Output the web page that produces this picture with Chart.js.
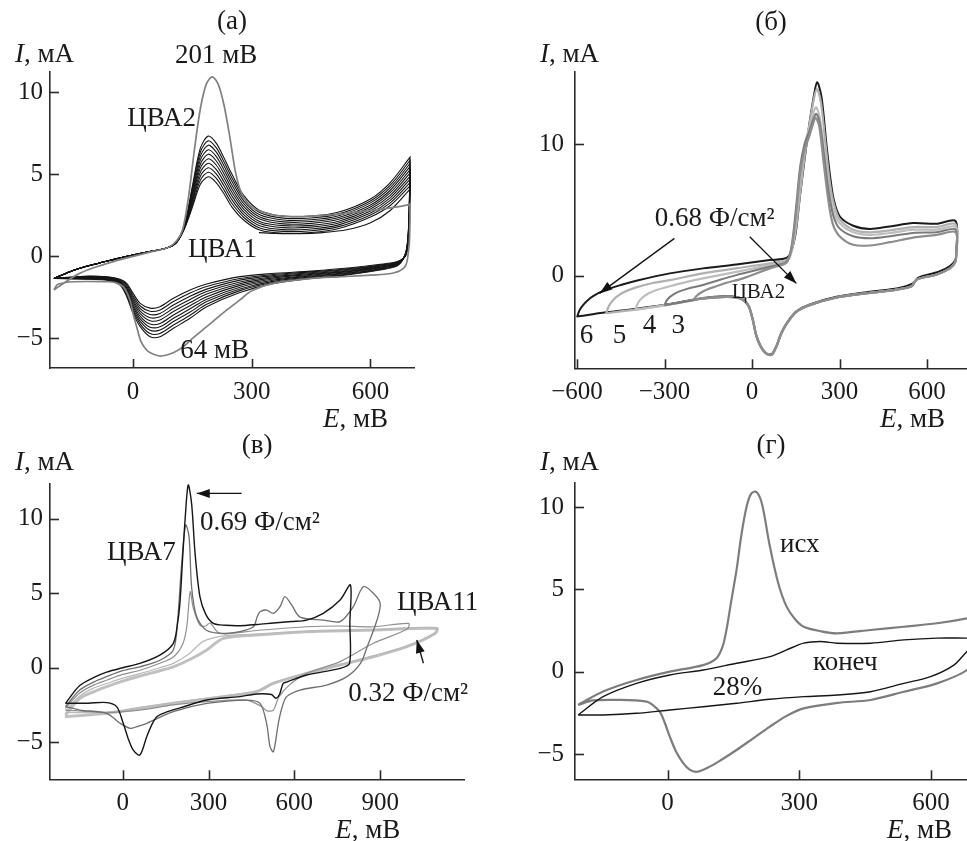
<!DOCTYPE html>
<html lang="ru">
<head>
<meta charset="UTF-8">
<title>ЦВА</title>
<script src="https://cdn.jsdelivr.net/npm/chart.js"></script>
<style>
  body { margin: 0; background: #fff; }
  #wrap { position: relative; width: 967px; height: 841px; overflow: hidden; }
  canvas { position: absolute; }
</style>
</head>
<body>
<div id="wrap">
  <canvas id="pa" width="480" height="440" style="left:0;top:0"></canvas>
  <canvas id="pb" width="487" height="440" style="left:480px;top:0"></canvas>
  <canvas id="pc" width="480" height="421" style="left:0;top:420px"></canvas>
  <canvas id="pd" width="487" height="421" style="left:480px;top:420px"></canvas>
</div>
<script>
// ---------- (а): E, мВ / I, мА ----------
var aXTicks = [0, 300, 600];
var aYTicks = [-5, 0, 5, 10];
var aBandFwdE = [-200,-150,-100,-50,0,50,90,110,130,150,170,190,210,230,250,280,320,380,450,520,600,650,700];
var aBandLeftI = [-1.35,-0.85,-0.5,-0.2,0.08,0.32,0.55];
var aBandPeakI = [
  [0.85,1.70,3.00,4.40,4.85,4.50,3.80,3.00,2.20,1.60,1.40,1.45,1.70,2.40,3.10,4.30],
  [0.85,1.72,3.14,4.64,5.13,4.77,4.04,3.22,2.37,1.73,1.52,1.56,1.81,2.52,3.26,4.49],
  [0.85,1.74,3.29,4.89,5.40,5.03,4.29,3.44,2.53,1.87,1.63,1.67,1.92,2.64,3.41,4.69],
  [0.86,1.77,3.43,5.13,5.68,5.30,4.53,3.67,2.70,2.00,1.75,1.78,2.03,2.77,3.57,4.88],
  [0.86,1.79,3.58,5.38,5.95,5.57,4.78,3.89,2.87,2.13,1.87,1.89,2.14,2.89,3.72,5.08],
  [0.86,1.81,3.72,5.62,6.23,5.83,5.02,4.11,3.03,2.27,1.98,2.01,2.26,3.01,3.88,5.27],
  [0.87,1.83,3.87,5.87,6.50,6.10,5.27,4.33,3.20,2.40,2.10,2.12,2.37,3.13,4.03,5.47],
  [0.87,1.86,4.01,6.11,6.78,6.37,5.51,4.56,3.37,2.53,2.22,2.23,2.48,3.26,4.19,5.66],
  [0.88,1.88,4.16,6.36,7.05,6.63,5.76,4.78,3.53,2.67,2.33,2.34,2.59,3.38,4.34,5.86],
  [0.88,1.90,4.30,6.60,7.33,6.90,6.00,5.00,3.70,2.80,2.45,2.45,2.70,3.50,4.50,6.05]
];
var aBandRevE = [700,697,690,670,620,550,450,350,270,186,144,102,68,43,18,0,-16,-33,-66,-109,-150,-200];
var aBandRevI = [
  [4.30,1.50,0.10,-0.30,-0.50,-0.70,-0.90,-1.05,-1.24,-1.69,-2.05,-2.56,-3.07,-3.16,-2.87,-2.26,-1.65,-1.40,-1.25,-1.20,-1.25,-1.35],
  [4.49,1.58,0.12,-0.33,-0.54,-0.74,-0.95,-1.12,-1.35,-1.84,-2.24,-2.76,-3.27,-3.35,-3.03,-2.40,-1.74,-1.44,-1.27,-1.22,-1.26,-1.35],
  [4.69,1.66,0.14,-0.36,-0.58,-0.79,-1.00,-1.19,-1.45,-2.00,-2.43,-2.97,-3.48,-3.55,-3.19,-2.53,-1.83,-1.48,-1.29,-1.24,-1.28,-1.35],
  [4.88,1.73,0.17,-0.38,-0.62,-0.83,-1.05,-1.26,-1.56,-2.15,-2.63,-3.17,-3.68,-3.74,-3.34,-2.67,-1.92,-1.52,-1.32,-1.27,-1.29,-1.35],
  [5.08,1.81,0.19,-0.41,-0.66,-0.88,-1.10,-1.33,-1.67,-2.30,-2.82,-3.37,-3.88,-3.93,-3.50,-2.80,-2.01,-1.56,-1.34,-1.29,-1.31,-1.35],
  [5.27,1.89,0.21,-0.44,-0.69,-0.92,-1.15,-1.40,-1.77,-2.46,-3.01,-3.58,-4.09,-4.13,-3.66,-2.94,-2.10,-1.59,-1.36,-1.31,-1.32,-1.35],
  [5.47,1.97,0.23,-0.47,-0.73,-0.97,-1.20,-1.47,-1.88,-2.61,-3.20,-3.78,-4.29,-4.32,-3.82,-3.07,-2.19,-1.63,-1.38,-1.33,-1.33,-1.35],
  [5.66,2.04,0.26,-0.49,-0.77,-1.01,-1.25,-1.54,-1.99,-2.76,-3.40,-3.98,-4.49,-4.51,-3.97,-3.21,-2.28,-1.67,-1.41,-1.36,-1.35,-1.35],
  [5.86,2.12,0.28,-0.52,-0.81,-1.06,-1.30,-1.61,-2.09,-2.92,-3.59,-4.19,-4.70,-4.71,-4.13,-3.34,-2.37,-1.71,-1.43,-1.38,-1.36,-1.35],
  [6.05,2.20,0.30,-0.55,-0.85,-1.10,-1.35,-1.68,-2.20,-3.07,-3.78,-4.39,-4.90,-4.90,-4.29,-3.48,-2.46,-1.75,-1.45,-1.40,-1.38,-1.35]
];
var aGray = [[-200,-2.05],[-170,-1.55],[-140,-1.1],[-100,-0.7],[-50,-0.32],[0,0.0],[50,0.3],[90,0.55],[110,0.95],[125,1.6],
  [140,3.6],[155,6.5],[170,9.0],[185,10.5],[200,10.95],[215,10.5],[230,9.2],[245,7.2],[260,5.0],[275,3.8],[300,3.0],
  [350,2.55],[400,2.42],[450,2.45],[520,2.58],[600,2.8],[650,2.95],[698,3.15],[700,3.2],[699,1.2],[696,0.3],[688,-0.6],
  [660,-1.0],[600,-1.15],[520,-1.25],[450,-1.35],[354,-1.65],[300,-2.1],[270,-2.66],[230,-3.4],[186,-4.29],[150,-5.0],
  [127,-5.51],[100,-5.9],[68,-6.08],[45,-5.9],[34,-5.71],[20,-5.2],[9,-4.29],[0,-3.5],[-8,-2.66],[-25,-1.85],[-45,-1.6],
  [-66,-1.55],[-150,-1.55],[-190,-1.7],[-200,-2.05]];
var aCva1 = [[318,1.45],[360,1.40],[420,1.38],[480,1.45],[540,1.62],[600,2.05],[650,2.8],[700,4.1]];

// ---------- (б) ----------
var bXTicks = [-600, -300, 0, 300, 600];
var bYTicks = [0, 10];
var b2Fwd = [[-200,-1.85],[-193,-1.6],[-180,-1.35],[-160,-1.1],[-130,-0.85],[-90,-0.55],[-31,-0.2],[61,0.56],[118,1.0],
  [135,2.0],[150,4.5],[165,7.8],[180,9.6],[195,10.5],[210,11.6],[218,12.0],[230,11.4],[246,8.5],[260,6.0],[276,4.0],
  [300,3.0],[347,2.35],[404,2.3],[473,2.55],[552,2.9],[633,3.1],[698,3.3]];
var b3Fwd = [[-300,-2.25],[-292,-1.85],[-278,-1.55],[-255,-1.25],[-220,-0.98],[-168,-0.7],[-110,-0.3],[-54,0.05],[61,0.68],
  [118,1.06],[135,2.2],[150,5.0],[165,8.3],[180,10.0],[195,10.9],[210,11.9],[220,12.3],[232,11.6],[248,9.0],[262,6.5],
  [278,4.6],[300,3.6],[347,3.0],[404,2.85],[473,3.0],[552,3.25],[633,3.3],[698,3.5]];
var b4Fwd = [[-400,-2.57],[-392,-2.1],[-380,-1.75],[-360,-1.4],[-330,-1.1],[-282,-0.8],[-220,-0.45],[-168,-0.2],[-54,0.3],
  [61,0.81],[118,1.1],[135,1.9],[150,4.2],[165,7.4],[180,9.8],[195,11.2],[212,12.5],[220,12.8],[232,12.0],[248,9.5],
  [262,7.0],[278,5.0],[300,4.0],[347,3.3],[404,3.1],[473,3.25],[552,3.5],[633,3.5],[698,3.7]];
var b5Fwd = [[-500,-2.85],[-492,-2.35],[-480,-1.95],[-465,-1.6],[-440,-1.25],[-397,-0.88],[-340,-0.55],[-282,-0.33],
  [-168,0.18],[-54,0.56],[61,0.94],[118,1.2],[135,1.8],[150,3.5],[165,6.3],[180,9.0],[195,11.2],[210,13.2],[222,14.2],
  [236,13.2],[252,10.0],[266,7.2],[280,5.5],[300,4.3],[347,3.5],[404,3.3],[473,3.45],[552,3.7],[633,3.7],[698,3.9]];
var b6Fwd = [[-600,-3.15],[-592,-2.65],[-580,-2.25],[-565,-1.9],[-545,-1.55],[-511,-1.15],[-450,-0.7],[-397,-0.38],
  [-282,0.18],[-168,0.56],[-54,0.85],[61,1.19],[118,1.35],[135,1.9],[150,3.3],[164,6.0],[180,8.8],[195,11.3],[210,13.4],
  [223,14.7],[238,13.6],[255,10.0],[268,7.5],[280,5.8],[301,4.5],[347,3.8],[404,3.55],[473,3.75],[552,4.0],[633,3.95],[698,4.15]];
var bRev = [[700,1.5],[696,1.0],[678,0.56],[633,0.1],[564,-0.3],[547,-0.8],[496,-1.05],[404,-1.3],[290,-1.65],[198,-2.23],
  [152,-2.74],[120,-3.6],[100,-4.4],[85,-5.3],[70,-5.95],[60,-6.02],[45,-5.85],[30,-5.4],[15,-4.6],[3,-3.4],[-10,-2.4],
  [-25,-1.95],[-45,-1.7],[-88,-1.6],[-168,-1.72]];
var bTail = [[-200,-1.85],[-300,-2.25],[-400,-2.57],[-500,-2.85],[-600,-3.15]];
var b6Rev = [[700,1.8],[697,1.2],[680,0.75],[640,0.3],[570,-0.15],[550,-0.6],[500,-0.95],[404,-1.22],[290,-1.6],[198,-2.18],
  [152,-2.7],[120,-3.55],[100,-4.35],[85,-5.25],[70,-5.9],[60,-5.98],[45,-5.8],[30,-5.35],[15,-4.55],[3,-3.35],[-10,-2.35],
  [-25,-1.9],[-45,-1.65],[-88,-1.55],[-168,-1.68],[-282,-2.15],[-397,-2.5],[-500,-2.78],[-600,-3.1]];

// ---------- (в) ----------
var vXTicks = [0, 300, 600, 900];
var vYTicks = [-5, 0, 5, 10];
var vBlack = [[-200,-2.39],[-150,-1.2],[-100,-0.65],[-56,-0.3],[0,0.0],[60,0.29],[130,0.85],[177,1.64],[192,3.0],[200,4.32],
  [210,7.5],[218,9.9],[229,12.26],[241,11.0],[253,7.68],[270,4.77],[290,3.6],[317,2.98],[360,2.85],[410,2.82],[470,2.9],
  [527,3.0],[590,3.1],[643,3.2],[701,3.65],[760,4.54],[796,5.55],[794,3.0],[793,0.29],[760,-0.04],[643,-0.49],[575,-0.95],
  [561,-1.05],[548,-1.8],[535,-2.05],[520,-1.8],[468,-1.76],[410,-1.94],[294,-2.17],[200,-2.7],[150,-3.0],[119,-3.29],
  [100,-3.9],[84,-4.63],[60,-5.86],[37,-5.53],[20,-4.8],[2,-3.73],[-21,-2.61],[-56,-2.34],[-120,-2.38],[-200,-2.39]];
var vCva900 = [[-200,-2.61],[-150,-1.5],[-100,-0.95],[-56,-0.6],[0,-0.2],[60,0.06],[130,0.5],[177,1.19],[192,3.2],[205,6.68],
  [220,9.58],[232,8.8],[241,5.4],[259,3.4],[294,2.5],[352,2.3],[410,2.42],[457,2.75],[470,3.4],[480,3.76],[503,3.87],
  [527,3.65],[550,4.1],[567,4.77],[591,4.2],[620,3.4],[701,3.2],[760,3.1],[806,4.1],[841,5.44],[876,5.0],[900,4.32],
  [889,3.2],[855,1.42],[831,0.29],[784,-0.6],[713,-1.16],[620,-1.5],[573,-1.94],[555,-2.8],[544,-3.73],[527,-5.64],
  [515,-5.3],[503,-3.73],[480,-2.39],[433,-2.17],[294,-2.4],[177,-2.95],[84,-3.73],[50,-3.95],[26,-4.07],[-9,-3.73],
  [-56,-3.06],[-149,-2.84],[-200,-2.61]];
var vCva1000 = [[-200,-2.72],[-150,-1.7],[-100,-1.15],[-56,-0.84],[0,-0.45],[60,-0.17],[130,0.3],[177,0.72],[210,1.6],
  [224,2.75],[236,5.1],[247,3.99],[270,2.86],[290,2.8],[305,3.0],[340,2.3],[468,2.5],[643,2.75],[760,2.8],[876,2.75],
  [999,2.98],[995,2.6],[876,1.64],[760,0.41],[643,-0.38],[580,-1.2],[545,-2.0],[527,-2.84],[505,-2.9],[485,-2.6],
  [433,-2.17],[294,-2.28],[177,-2.5],[60,-2.84],[-56,-3.0],[-200,-2.84]];
var vCvaThin = [[-200,-2.9],[-150,-1.9],[-100,-1.35],[-56,-1.06],[0,-0.7],[60,-0.4],[130,0.0],[177,0.29],[230,0.9],[259,1.41],
  [280,1.75],[317,2.0],[360,2.15],[468,2.25],[643,2.45],[876,2.55],[1098,2.7],[1092,2.35],[993,1.45],[876,0.8],[760,0.22],
  [643,-0.35],[527,-1.0],[468,-1.55],[352,-1.9],[177,-2.35],[60,-2.68],[-56,-3.0],[-200,-3.0]];
var vCva11 = [[-200,-3.17],[-150,-2.05],[-100,-1.6],[-56,-1.27],[0,-0.9],[60,-0.56],[130,-0.2],[177,0.06],[240,0.6],[294,1.19],
  [352,1.97],[468,2.2],[643,2.42],[876,2.53],[1098,2.64],[1092,2.3],[993,1.41],[876,0.74],[760,0.18],[643,-0.38],
  [527,-1.05],[468,-1.61],[352,-1.94],[177,-2.39],[60,-2.72],[-56,-3.06],[-202,-3.28]];

// ---------- (г) ----------
var gXTicks = [0, 300, 600];
var gYTicks = [-5, 0, 5, 10];
var gInit = [[-204,-2.02],[-147,-1.21],[-71,-0.51],[5,0.0],[81,0.4],[111,0.81],[125,1.5],[134,2.53],[145,4.3],[157,6.18],
  [168,8.3],[180,10.03],[190,10.8],[200,10.94],[210,10.6],[218,9.83],[233,7.6],[252,5.37],[271,3.95],[290,3.2],[310,2.73],
  [350,2.45],[386,2.33],[462,2.53],[538,2.73],[614,2.94],[682,3.24],[700,3.4],[700,1.0],[682,0.1],[614,-0.71],[538,-1.22],
  [462,-1.72],[386,-1.9],[310,-2.23],[270,-2.7],[233,-3.34],[195,-4.05],[157,-4.76],[120,-5.4],[96,-5.77],[67,-6.08],
  [50,-5.95],[36,-5.57],[20,-4.9],[5,-3.95],[-8,-3.0],[-18,-2.43],[-35,-2.0],[-48,-1.82],[-109,-1.72],[-170,-1.75],[-204,-2.02]];
var gFinal = [[-204,-2.63],[-147,-1.52],[-71,-0.71],[5,-0.2],[81,0.1],[157,0.51],[233,0.91],[271,1.32],[310,1.73],[348,1.83],
  [386,1.73],[462,1.73],[538,1.93],[614,2.04],[682,2.04],[700,2.05],[700,1.6],[682,1.23],[652,0.4],[599,-0.3],[538,-0.71],
  [462,-1.22],[386,-1.42],[310,-1.52],[233,-1.68],[157,-1.92],[81,-2.13],[5,-2.33],[-71,-2.53],[-147,-2.63],[-204,-2.63]];

// подписи, в координатах данных
var decorCfg = {
  pa: { title: '(а)', titleDy: -43, iDy: -10, eDx: -26,
    texts: [
      { t: '201 мВ', x: 210, y: 11.79, align: 'center' },
      { t: 'ЦВА2', x: -15, y: 7.95 },
      { t: 'ЦВА1', x: 139, y: -0.04 },
      { t: '64 мВ', x: 119, y: -6.2 }
    ], arrows: [] },
  pb: { title: '(б)', titleDy: -42, iDy: -10, eDx: -22,
    texts: [
      { t: '0.68 Ф/см²', x: -334, y: 3.77 },
      { t: 'ЦВА2', x: -70, y: -1.69, size: 21 },
      { t: '6', x: -591, y: -5.1 }, { t: '5', x: -478, y: -5.1 },
      { t: '4', x: -375, y: -4.35 }, { t: '3', x: -276, y: -4.35 }
    ],
    arrows: [ { x1: -266, y1: 2.84, x2: -523, y2: -1.34 }, { x1: -8, y1: 2.96, x2: 152, y2: -0.58 } ] },
  pc: { title: '(в)', titleDy: -30, iDy: -13, eDx: -64,
    texts: [
      { t: '0.69 Ф/см²', x: 270, y: 9.24 },
      { t: 'ЦВА7', x: -55, y: 7.23 },
      { t: 'ЦВА11', x: 959, y: 3.87 },
      { t: '0.32 Ф/см²', x: 788, y: -2.23 }
    ],
    arrows: [ { x1: 416, y1: 11.7, x2: 259, y2: 11.7 }, { x1: 1051, y1: 0.3, x2: 1028, y2: 1.86 } ] },
  pd: { title: '(г)', titleDy: -30, iDy: -13, eDx: -15,
    texts: [
      { t: 'исх', x: 256, y: 7.29 },
      { t: 'конеч', x: 331, y: 0.1 },
      { t: '28%', x: 103, y: -1.42 }
    ], arrows: [] }
};

var FONT = '"Liberation Serif", "Times New Roman", serif';
var TXT = 27;
Chart.defaults.font.family = FONT;

function pts(pairs) { return pairs.map(function (p) { return { x: p[0], y: p[1] }; }); }
function zip(E, I) { return E.map(function (e, i) { return [e, I[i]]; }); }
function curve(pairs, color, width) {
  return { data: pts(pairs), borderColor: color, borderWidth: width, showLine: true,
           pointRadius: 0, tension: 0.3, fill: false };
}

function drawArrow(ctx, x1, y1, x2, y2) {
  ctx.beginPath(); ctx.moveTo(x1, y1); ctx.lineTo(x2, y2); ctx.stroke();
  var ang = Math.atan2(y2 - y1, x2 - x1), L = 13, W = 4.5;
  var bx = x2 - L * Math.cos(ang), by = y2 - L * Math.sin(ang);
  ctx.beginPath();
  ctx.moveTo(x2, y2);
  ctx.lineTo(bx + W * Math.sin(ang), by - W * Math.cos(ang));
  ctx.lineTo(bx - W * Math.sin(ang), by + W * Math.cos(ang));
  ctx.closePath(); ctx.fill();
}

var decor = {
  id: 'decor',
  afterDraw: function (chart) {
    var cfg = decorCfg[chart.canvas.id];
    var ctx = chart.ctx, a = chart.chartArea, xs = chart.scales.x, ys = chart.scales.y;
    ctx.save();
    // засечки внутрь
    ctx.strokeStyle = '#2a2a2a'; ctx.lineWidth = 1.6;
    xs.ticks.forEach(function (t) {
      var p = Math.round(xs.getPixelForValue(t.value)) + 0.5;
      ctx.beginPath(); ctx.moveTo(p, a.bottom); ctx.lineTo(p, a.bottom - 9); ctx.stroke();
    });
    ys.ticks.forEach(function (t) {
      var p = Math.round(ys.getPixelForValue(t.value)) + 0.5;
      ctx.beginPath(); ctx.moveTo(a.left, p); ctx.lineTo(a.left + 9, p); ctx.stroke();
    });
    ctx.fillStyle = '#1a1a1a';
    ctx.textBaseline = 'alphabetic';
    // заголовок панели
    ctx.font = TXT + 'px ' + FONT;
    ctx.textAlign = 'center';
    ctx.fillText(cfg.title, (a.left + a.right) / 2, a.top + cfg.titleDy);
    // I, мА
    ctx.textAlign = 'left';
    var ix = a.left - 35, iy = a.top + cfg.iDy;
    ctx.font = 'italic ' + TXT + 'px ' + FONT;
    ctx.fillText('I', ix, iy);
    var w = ctx.measureText('I').width;
    ctx.font = TXT + 'px ' + FONT;
    ctx.fillText(', мА', ix + w, iy);
    // E, мВ
    var ex = a.right + cfg.eDx, ey = a.bottom + 59;
    var w2 = ctx.measureText(', мВ').width;
    ctx.fillText(', мВ', ex - w2, ey);
    ctx.font = 'italic ' + TXT + 'px ' + FONT;
    var w3 = ctx.measureText('E').width;
    ctx.fillText('E', ex - w2 - w3, ey);
    // подписи
    cfg.texts.forEach(function (t) {
      ctx.font = (t.size || TXT) + 'px ' + FONT;
      ctx.textAlign = t.align || 'left';
      ctx.fillText(t.t, xs.getPixelForValue(t.x), ys.getPixelForValue(t.y));
    });
    ctx.strokeStyle = '#111'; ctx.fillStyle = '#111'; ctx.lineWidth = 1.3;
    cfg.arrows.forEach(function (r) {
      drawArrow(ctx, xs.getPixelForValue(r.x1), ys.getPixelForValue(r.y1),
                xs.getPixelForValue(r.x2), ys.getPixelForValue(r.y2));
    });
    ctx.restore();
  }
};

function axis(kind, min, max, tickList, size, pad) {
  return {
    type: 'linear', min: min, max: max,
    ticks: { padding: pad, color: '#1a1a1a', maxRotation: 0, autoSkip: false,
             font: { family: FONT, size: 25 },
             callback: function (v) { return v < 0 ? '\u2212' + Math.abs(v) : String(v); } },
    grid: { display: true, drawOnChartArea: false, drawTicks: false },
    border: { display: true, color: '#2a2a2a', width: 1.6 },
    afterBuildTicks: function (s) { s.ticks = tickList.map(function (v) { return { value: v }; }); },
    afterFit: function (s) {
      if (kind === 'x') s.height = size; else s.width = size;
      s.paddingLeft = 0; s.paddingRight = 0; s.paddingTop = 0; s.paddingBottom = 0;
    }
  };
}

function panel(id, p, datasets) {
  var cv = document.getElementById(id);
  new Chart(cv, {
    type: 'scatter',
    data: { datasets: datasets },
    options: {
      responsive: false, animation: false,
      layout: { padding: { left: 0, top: p.top, right: cv.width - p.right, bottom: 0 } },
      plugins: { legend: { display: false }, tooltip: { enabled: false } },
      scales: {
        x: axis('x', p.xMin, p.xMax, p.xTicks, cv.height - p.bottom, 9),
        y: axis('y', p.yMin, p.yMax, p.yTicks, p.left, p.yPad)
      }
    },
    plugins: [decor]
  });
}

// (а)
var dsA = [curve(aGray, '#808080', 1.7), curve(aCva1, '#151515', 1.2)];
for (var k = aBandPeakI.length - 1; k >= 0; k--) {
  var fwd = zip(aBandFwdE, aBandLeftI.concat(aBandPeakI[k]));
  var rev = zip(aBandRevE, aBandRevI[k]);
  dsA.push(curve(fwd.concat(rev), '#151515', 1.1));
}
panel('pa', { left: 50, top: 71.7, right: 414, bottom: 368, xMin: -210, xMax: 710, yMin: -6.81, yMax: 11.26,
              xTicks: aXTicks, yTicks: aYTicks, yPad: 7 }, dsA);

// (б)
function bCurve(fwd) {
  var v = fwd[0][0];
  return fwd.concat(bRev, bTail.filter(function (p) { return p[0] >= v; }));
}
panel('pb', { left: 95, top: 71.7, right: 487, bottom: 368.3, xMin: -607, xMax: 737, yMin: -7.03, yMax: 15.5,
              xTicks: bXTicks, yTicks: bYTicks, yPad: 11 }, [
  curve(bCurve(b2Fwd), '#8d8d8d', 2.2),
  curve(bCurve(b3Fwd), '#7a7a7a', 2),
  curve(bCurve(b4Fwd), '#bdbdbd', 2.2),
  curve(bCurve(b5Fwd), '#b0b0b0', 2.2),
  curve(b6Fwd.concat(b6Rev), '#1a1a1a', 2)
]);

// (в)
panel('pc', { left: 50, top: 63.3, right: 464.3, bottom: 359.3, xMin: -254, xMax: 1194, yMin: -7.49, yMax: 12.38,
              xTicks: vXTicks, yTicks: vYTicks, yPad: 7 }, [
  curve(vBlack, '#151515', 1.4),
  curve(vCva900, '#6e6e6e', 1.3),
  curve(vCva1000, '#8f8f8f', 1.2),
  curve(vCvaThin, '#b9b9b9', 1.2),
  curve(vCva11, '#c0c0c0', 3)
]);

// (г)
panel('pd', { left: 95, top: 62.7, right: 487, bottom: 359.3, xMin: -211, xMax: 682, yMin: -6.54, yMax: 11.48,
              xTicks: gXTicks, yTicks: gYTicks, yPad: 11 }, [
  curve(gFinal, '#151515', 1.4),
  curve(gInit, '#7d7d7d', 2.2)
]);
</script>
</body>
</html>
